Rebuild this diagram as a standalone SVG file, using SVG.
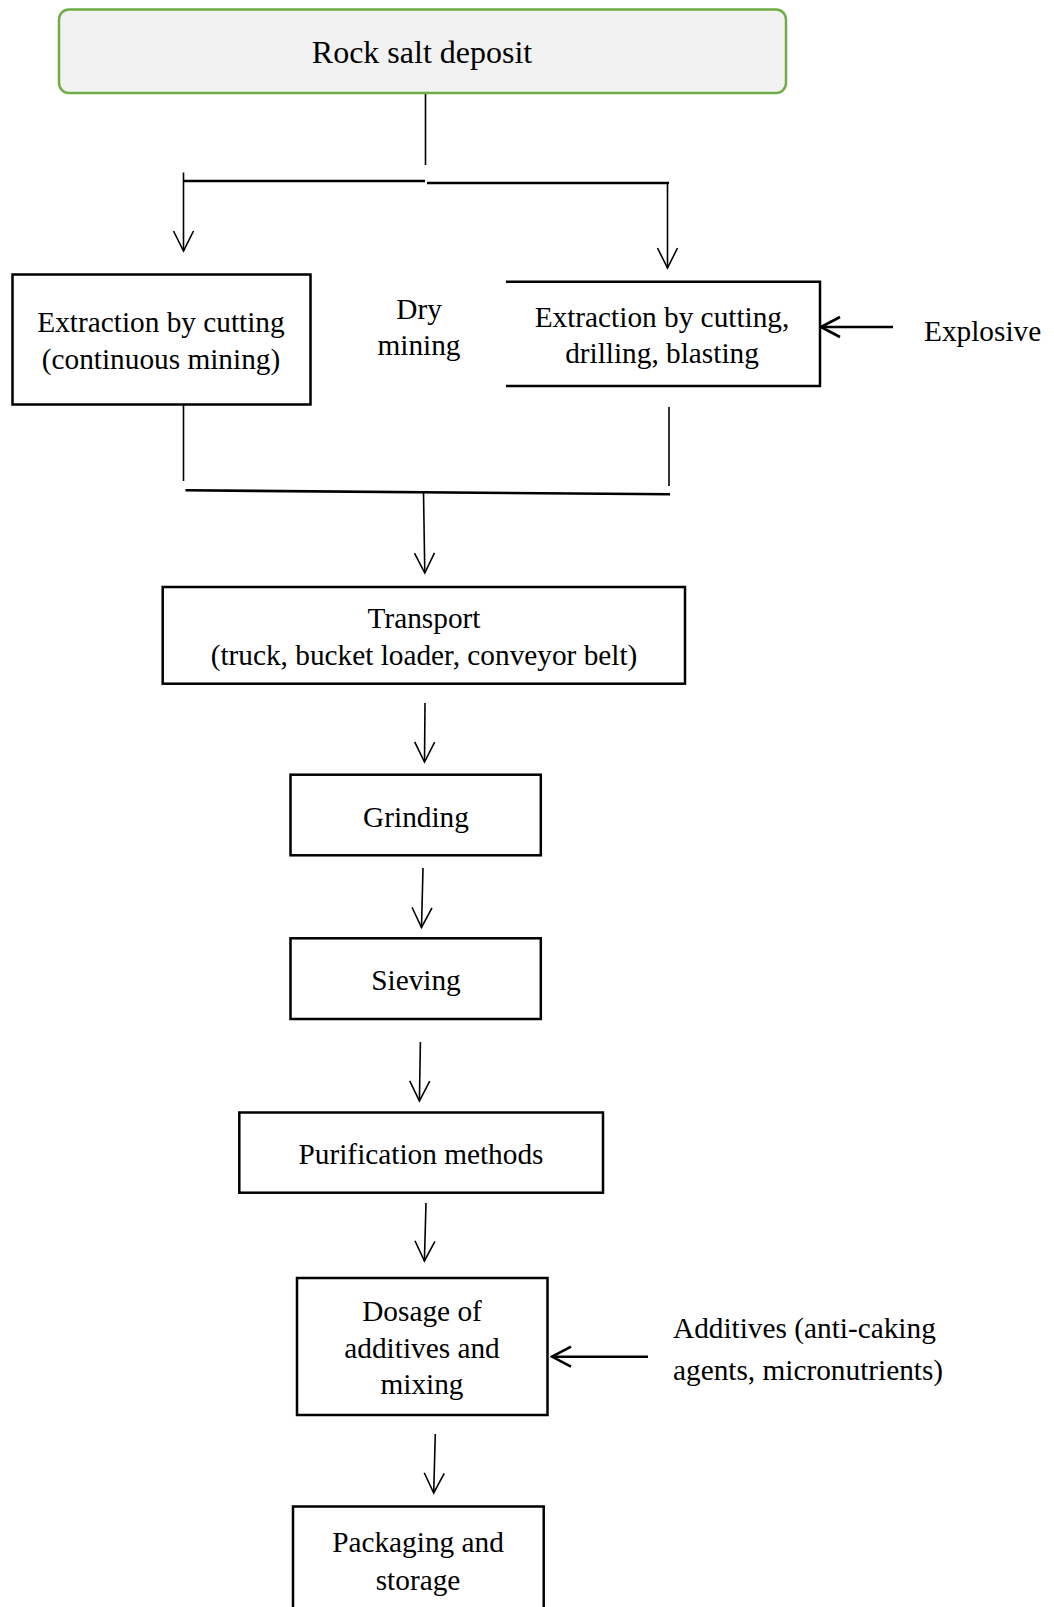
<svg xmlns="http://www.w3.org/2000/svg" width="1054" height="1607" viewBox="0 0 1054 1607">
<defs>
<style>
text{font-family:"Liberation Serif","Times New Roman",serif;font-size:29.3px;fill:#000;}
.c{text-anchor:middle;}
.box{fill:#fff;stroke:#000;stroke-width:2.5;}
.thin{fill:none;stroke:#000;stroke-width:1.6;}
.thick{fill:none;stroke:#000;stroke-width:2.6;}
</style>
<marker id="ah" markerUnits="userSpaceOnUse" viewBox="-22 -12 24 24" markerWidth="24" markerHeight="24" refX="0" refY="0" orient="auto">
<path d="M-20,-10 L0,0 L-20,10" fill="none" stroke="#000" stroke-width="1.6"/>
</marker>
<marker id="ahb" markerUnits="userSpaceOnUse" viewBox="-22 -12 24 24" markerWidth="24" markerHeight="24" refX="0" refY="0" orient="auto">
<path d="M-19,-10 L0,0 L-19,10" fill="none" stroke="#000" stroke-width="2.6"/>
</marker>
</defs>
<rect width="1054" height="1607" fill="#fff"/>

<g id="connectors">
<line class="thin" x1="425.5" y1="93" x2="425.5" y2="165"/>
<line class="thick" x1="183.5" y1="181" x2="425" y2="181"/>
<line class="thick" x1="427" y1="183" x2="669" y2="183"/>
<line class="thin" x1="183.5" y1="172.5" x2="183.5" y2="251" marker-end="url(#ah)"/>
<line class="thin" x1="667.5" y1="183" x2="667.5" y2="268" marker-end="url(#ah)"/>
<line class="thick" x1="893" y1="327" x2="821" y2="327" marker-end="url(#ahb)"/>
<line class="thin" x1="183.5" y1="403" x2="183.5" y2="481"/>
<line class="thin" x1="669" y1="407" x2="669" y2="486"/>
<line class="thick" x1="185.5" y1="490.3" x2="670" y2="494.3"/>
<line class="thin" x1="423.5" y1="492" x2="424.8" y2="573" marker-end="url(#ah)"/>
<line class="thin" x1="425" y1="703" x2="424.5" y2="762" marker-end="url(#ah)"/>
<line class="thin" x1="423" y1="868" x2="421.5" y2="927.5" marker-end="url(#ah)"/>
<line class="thin" x1="420.4" y1="1042" x2="419.4" y2="1101" marker-end="url(#ah)"/>
<line class="thin" x1="426" y1="1203" x2="424.4" y2="1261" marker-end="url(#ah)"/>
<line class="thick" x1="648" y1="1356.7" x2="552" y2="1356.7" marker-end="url(#ahb)"/>
<line class="thin" x1="435.3" y1="1434" x2="433.7" y2="1493" marker-end="url(#ah)"/>
</g>

<g id="rock-salt-deposit">
<rect x="59" y="9.5" width="727" height="83.5" rx="10" fill="#F2F2F2" stroke="#70AD47" stroke-width="2.5"/>
<text class="c" x="422" y="63" style="font-size:32px">Rock salt deposit</text>
</g>

<g id="extraction-continuous">
<rect class="box" x="12.5" y="274.5" width="298" height="130"/>
<text class="c" x="161" y="332">Extraction by cutting</text>
<text class="c" x="161" y="368.5">(continuous mining)</text>
</g>

<g id="dry-mining">
<text class="c" x="419" y="319">Dry</text>
<text class="c" x="419" y="355">mining</text>
</g>

<g id="extraction-blasting">
<path class="box" d="M506,281.7 H820 V386 H506" style="fill:#fff"/>
<text class="c" x="662" y="326.5">Extraction by cutting,</text>
<text class="c" x="662" y="363">drilling, blasting</text>
</g>

<g id="explosive">
<text x="924" y="341">Explosive</text>
</g>

<g id="transport">
<rect class="box" x="162.7" y="587" width="522.3" height="96.7"/>
<text class="c" x="424" y="628">Transport</text>
<text class="c" x="424" y="665">(truck, bucket loader, conveyor belt)</text>
</g>

<g id="grinding">
<rect class="box" x="290.5" y="774.7" width="250.3" height="80.6"/>
<text class="c" x="416" y="827">Grinding</text>
</g>

<g id="sieving">
<rect class="box" x="290.5" y="938.3" width="250.3" height="80.7"/>
<text class="c" x="416" y="989.5">Sieving</text>
</g>

<g id="purification">
<rect class="box" x="239.3" y="1112.5" width="363.7" height="80.2"/>
<text class="c" x="421" y="1164">Purification methods</text>
</g>

<g id="dosage">
<rect class="box" x="297" y="1278" width="250.5" height="137"/>
<text class="c" x="422" y="1321">Dosage of</text>
<text class="c" x="422" y="1357.5">additives and</text>
<text class="c" x="422" y="1393.5">mixing</text>
</g>

<g id="additives">
<text x="673" y="1338">Additives (anti-caking</text>
<text x="673" y="1380">agents, micronutrients)</text>
</g>

<g id="packaging">
<rect class="box" x="293" y="1506.5" width="250.7" height="120"/>
<text class="c" x="418" y="1551.5">Packaging and</text>
<text class="c" x="418" y="1589.5">storage</text>
</g>
</svg>
